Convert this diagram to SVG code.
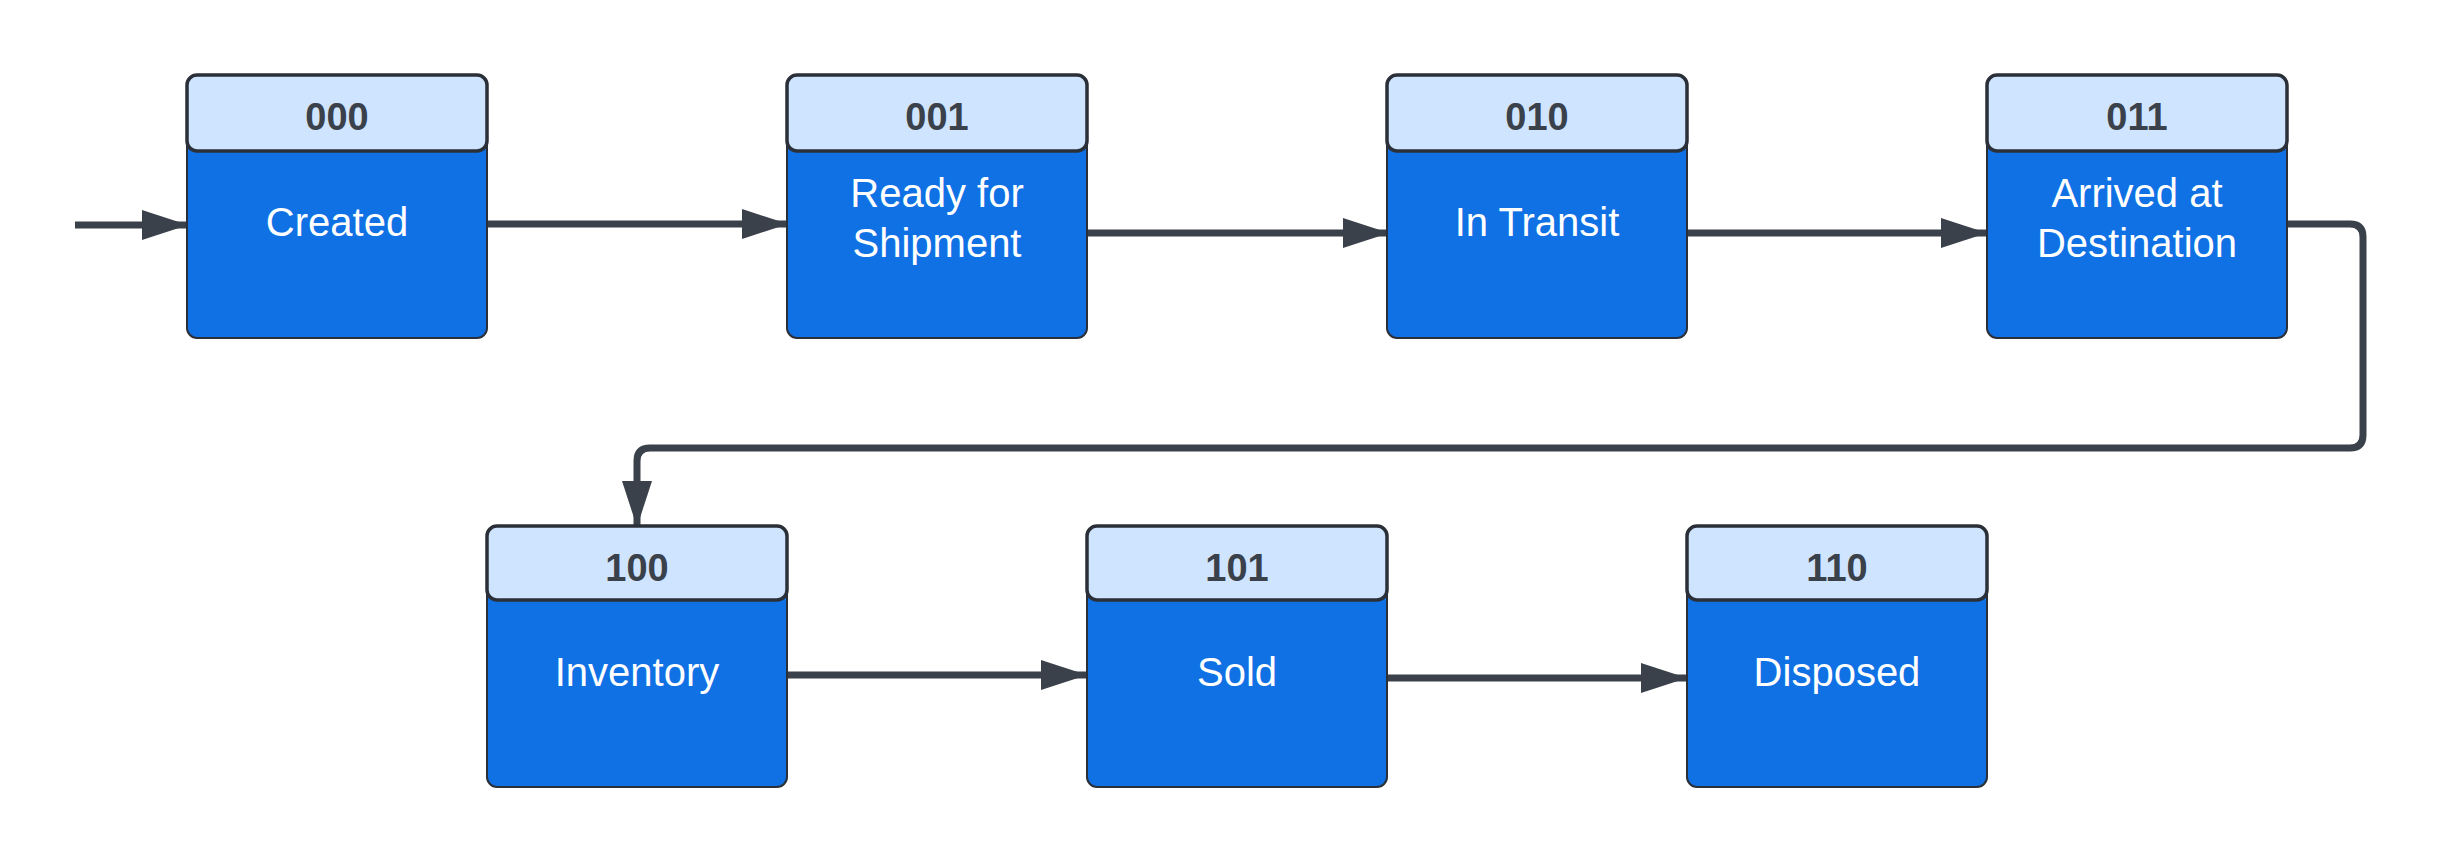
<svg xmlns="http://www.w3.org/2000/svg" width="2439" height="863" viewBox="0 0 2439 863">
<defs>
<marker id="arr" markerUnits="userSpaceOnUse" markerWidth="48" markerHeight="32" refX="45" refY="15" orient="auto">
<path d="M0,0 L46,15 L0,30 z" fill="#3A414A"/>
</marker>
<style>
.body{fill:#1071E5;stroke:#2B3038;stroke-width:2}
.head{fill:#CFE4FF;stroke:#2B3038;stroke-width:3.5}
.code{font-family:"Liberation Sans",Arial,sans-serif;font-weight:bold;font-size:38px;fill:#3A414A;text-anchor:middle}
.lbl{font-family:"Liberation Sans",Arial,sans-serif;font-size:40px;fill:#FFFFFF;text-anchor:middle}
.conn{fill:none;stroke:#3A414A;stroke-width:7;marker-end:url(#arr)}
</style>
</defs>
<rect width="2439" height="863" fill="#FFFFFF"/>
<g id="connectors">
<path class="conn" d="M75,225 H187"/>
<path class="conn" d="M487,224 H787"/>
<path class="conn" d="M1086,233 H1388"/>
<path class="conn" d="M1686,233 H1986"/>
<path class="conn" d="M2287,224 H2350 Q2363,224 2363,237 V435 Q2363,448 2350,448 H650 Q637,448 637,461 V526"/>
<path class="conn" d="M787,675 H1086"/>
<path class="conn" d="M1386,678 H1686"/>
</g>
<g id="n000">
<rect class="body" x="187" y="75" width="300" height="263" rx="10"/>
<rect class="head" x="187" y="75" width="300" height="76" rx="10"/>
<text class="code" x="337" y="130">000</text>
<text class="lbl" x="337" y="236">Created</text>
</g>
<g id="n001">
<rect class="body" x="787" y="75" width="300" height="263" rx="10"/>
<rect class="head" x="787" y="75" width="300" height="76" rx="10"/>
<text class="code" x="937" y="130">001</text>
<text class="lbl" x="937" y="207">Ready for</text>
<text class="lbl" x="937" y="257">Shipment</text>
</g>
<g id="n010">
<rect class="body" x="1387" y="75" width="300" height="263" rx="10"/>
<rect class="head" x="1387" y="75" width="300" height="76" rx="10"/>
<text class="code" x="1537" y="130">010</text>
<text class="lbl" x="1537" y="236">In Transit</text>
</g>
<g id="n011">
<rect class="body" x="1987" y="75" width="300" height="263" rx="10"/>
<rect class="head" x="1987" y="75" width="300" height="76" rx="10"/>
<text class="code" x="2137" y="130">011</text>
<text class="lbl" x="2137" y="207">Arrived at</text>
<text class="lbl" x="2137" y="257">Destination</text>
</g>
<g id="n100">
<rect class="body" x="487" y="526" width="300" height="261" rx="10"/>
<rect class="head" x="487" y="526" width="300" height="74" rx="10"/>
<text class="code" x="637" y="581">100</text>
<text class="lbl" x="637" y="686">Inventory</text>
</g>
<g id="n101">
<rect class="body" x="1087" y="526" width="300" height="261" rx="10"/>
<rect class="head" x="1087" y="526" width="300" height="74" rx="10"/>
<text class="code" x="1237" y="581">101</text>
<text class="lbl" x="1237" y="686">Sold</text>
</g>
<g id="n110">
<rect class="body" x="1687" y="526" width="300" height="261" rx="10"/>
<rect class="head" x="1687" y="526" width="300" height="74" rx="10"/>
<text class="code" x="1837" y="581">110</text>
<text class="lbl" x="1837" y="686">Disposed</text>
</g>
</svg>
